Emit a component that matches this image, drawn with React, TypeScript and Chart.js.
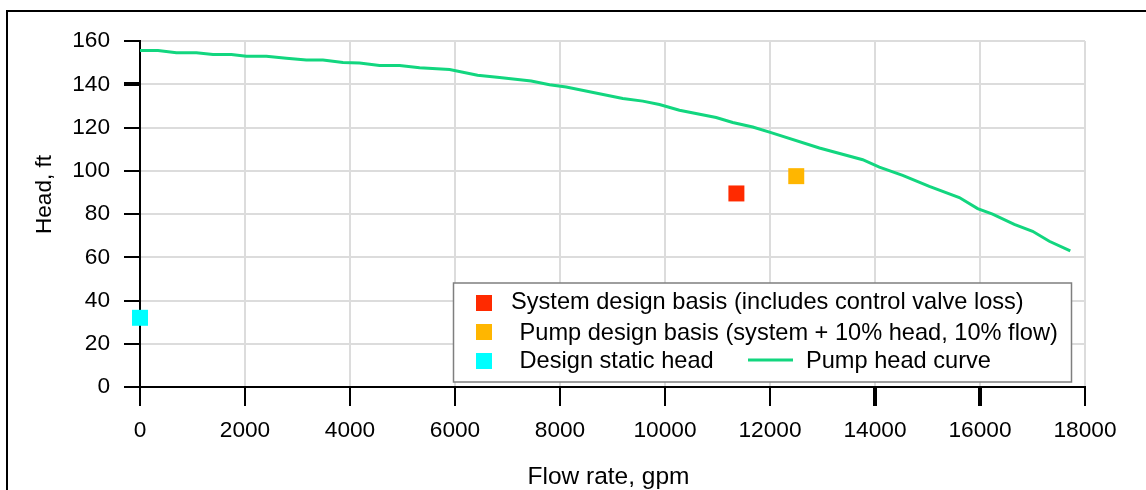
import React, { useEffect, useRef } from "react";
import { Chart, registerables } from "chart.js";

Chart.register(...registerables);

// ---- Data ----
const pumpFlowGpm = [
  0, 343, 693, 1074, 1390, 1740, 2026, 2407, 2788, 3169, 3485, 3866, 4183, 4564, 4945, 5326,
  5897, 6430, 6849, 7452, 7801, 8118, 9196, 9577, 9894, 10275, 10974, 11290, 11671, 12021,
  12941, 13766, 14083, 14527, 15035, 15606, 15955, 16240, 16653, 17002, 17320, 17720,
];
const pumpHeadFt = [
  155.6, 155.6, 154.6, 154.6, 153.8, 153.8, 153.0, 153.0, 152.0, 151.2, 151.2, 150.1, 149.8,
  148.7, 148.7, 147.6, 146.8, 144.2, 143.1, 141.5, 139.8, 138.7, 133.4, 132.2, 130.6, 128.0,
  124.6, 122.3, 120.2, 117.6, 110.5, 105.1, 101.7, 97.9, 92.8, 87.6, 82.5, 79.9, 75.2, 72.0,
  67.4, 62.9,
];
const systemDesignFlow = [11360];
const systemDesignHead = [89.5];
const pumpDesignFlow = [12500];
const pumpDesignHead = [97.5];
const staticHeadFlow = [0];
const staticHeadFt = [32];

const xTickValues = [0, 2000, 4000, 6000, 8000, 10000, 12000, 14000, 16000, 18000];
const yTickValues = [0, 20, 40, 60, 80, 100, 120, 140, 160];

const seriesLabels = [
  "System design basis (includes control valve loss)",
  " Pump design basis (system + 10% head, 10% flow)",
  " Design static head",
  "Pump head curve",
];
const xTitle = "Flow rate, gpm";
const yTitle = "Head, ft";

// ---- Styles ----
const FONT = '"Liberation Sans", Arial, Helvetica, sans-serif';
const RED = "#ff2a00";
const ORANGE = "#ffb600";
const CYAN = "#00ffff";
const GREEN = "#12d67f";
const GRID = "#dcdcdc";

const toPoints = (xs: number[], ys: number[]) => xs.map((x, i) => ({ x, y: ys[i] }));

const decorPlugin = {
  id: "decor",
  beforeDraw(chart: any) {
    const ctx = chart.ctx;
    ctx.save();
    ctx.fillStyle = "#ffffff";
    ctx.fillRect(0, 0, chart.width, chart.height);
    ctx.fillStyle = "#000000";
    ctx.fillRect(6, 10, 2, chart.height - 10);
    ctx.fillRect(6, 10, chart.width - 6, 2);
    ctx.restore();
  },
  afterDraw(chart: any) {
    const ctx = chart.ctx;
    const area = chart.chartArea;
    ctx.save();
    // legend box
    ctx.fillStyle = "#ffffff";
    ctx.fillRect(453.5, 283, 618, 99);
    ctx.strokeStyle = "#7f7f7f";
    ctx.lineWidth = 1.5;
    ctx.strokeRect(453.5, 283, 618, 99);

    ctx.font = `23.6px ${FONT}`;
    ctx.textBaseline = "alphabetic";
    ctx.textAlign = "left";
    // row 1
    ctx.fillStyle = RED;
    ctx.fillRect(476, 295, 16, 16);
    ctx.fillStyle = "#000";
    ctx.fillText(seriesLabels[0], 511, 309);
    // row 2
    ctx.fillStyle = ORANGE;
    ctx.fillRect(476, 324, 16, 16);
    ctx.fillStyle = "#000";
    ctx.fillText(seriesLabels[1], 513, 340);
    // row 3
    ctx.fillStyle = CYAN;
    ctx.fillRect(476, 353, 16, 16);
    ctx.fillStyle = "#000";
    ctx.fillText(seriesLabels[2], 513, 368);
    ctx.strokeStyle = GREEN;
    ctx.lineWidth = 3;
    ctx.beginPath();
    ctx.moveTo(748, 360);
    ctx.lineTo(793, 360);
    ctx.stroke();
    ctx.fillStyle = "#000";
    ctx.fillText(seriesLabels[3], 806, 368);

    // axis titles
    ctx.font = `24.5px ${FONT}`;
    ctx.textAlign = "center";
    ctx.fillText(xTitle, (area.left + area.right) / 2 - 4, 484);
    ctx.font = `22.6px ${FONT}`;
    ctx.translate(51, 194.5);
    ctx.rotate(-Math.PI / 2);
    ctx.fillText(yTitle, 0, 0);
    ctx.restore();
  },
};

export default function App() {
  const ref = useRef<HTMLCanvasElement | null>(null);

  useEffect(() => {
    if (!ref.current) return;
    const chart = new Chart(ref.current, {
      type: "scatter",
      data: {
        datasets: [
          {
            label: seriesLabels[3],
            data: toPoints(pumpFlowGpm, pumpHeadFt),
            showLine: true,
            borderColor: GREEN,
            borderWidth: 3,
            pointRadius: 0,
            tension: 0,
            clip: false as any,
          },
          {
            label: seriesLabels[0],
            data: toPoints(systemDesignFlow, systemDesignHead),
            pointStyle: "rect",
            pointRadius: 11.3,
            backgroundColor: RED,
            borderWidth: 0,
            clip: false as any,
          },
          {
            label: seriesLabels[1],
            data: toPoints(pumpDesignFlow, pumpDesignHead),
            pointStyle: "rect",
            pointRadius: 11.3,
            backgroundColor: ORANGE,
            borderWidth: 0,
            clip: false as any,
          },
          {
            label: seriesLabels[2],
            data: toPoints(staticHeadFlow, staticHeadFt),
            pointStyle: "rect",
            pointRadius: 11.3,
            backgroundColor: CYAN,
            borderWidth: 0,
            clip: false as any,
          },
        ],
      },
      options: {
        responsive: false,
        maintainAspectRatio: false,
        animation: false,
        layout: { padding: { top: 41, right: 61, left: 0, bottom: 0 } },
        plugins: { legend: { display: false }, tooltip: { enabled: false } },
        scales: {
          x: {
            type: "linear",
            min: 0,
            max: 18000,
            afterBuildTicks: (s: any) => {
              s.ticks = xTickValues.map((v) => ({ value: v }));
            },
            afterFit: (s: any) => {
              s.height = 103;
            },
            grid: {
              color: GRID,
              lineWidth: 2,
              tickLength: 19,
              tickColor: "#000",
              tickWidth: (c: any) => (c.tick && (c.tick.value === 14000 || c.tick.value === 16000) ? 4 : 2),
            },
            border: { color: "#000", width: 2 },
            ticks: {
              color: "#000",
              font: { family: FONT, size: 22.7 },
              padding: 11,
              maxRotation: 0,
              autoSkip: false,
              callback: (v: any) => String(v),
            },
          },
          y: {
            type: "linear",
            min: 0,
            max: 160,
            afterBuildTicks: (s: any) => {
              s.ticks = yTickValues.map((v) => ({ value: v }));
            },
            afterFit: (s: any) => {
              s.width = 140;
            },
            grid: {
              color: GRID,
              lineWidth: 2,
              tickLength: 16,
              tickColor: "#000",
              tickWidth: (c: any) => (c.tick && c.tick.value === 140 ? 4 : 2),
            },
            border: { color: "#000", width: 2 },
            ticks: {
              color: "#000",
              font: { family: FONT, size: 22.7 },
              padding: 14,
              autoSkip: false,
              callback: (v: any) => String(v),
            },
          },
        },
      },
      plugins: [decorPlugin],
    });
    return () => chart.destroy();
  }, []);

  return (
    <div style={{ position: "absolute", left: 0, top: 0, width: 1146, height: 490 }}>
      <canvas ref={ref} width={1146} height={490} style={{ display: "block" }} />
    </div>
  );
}
